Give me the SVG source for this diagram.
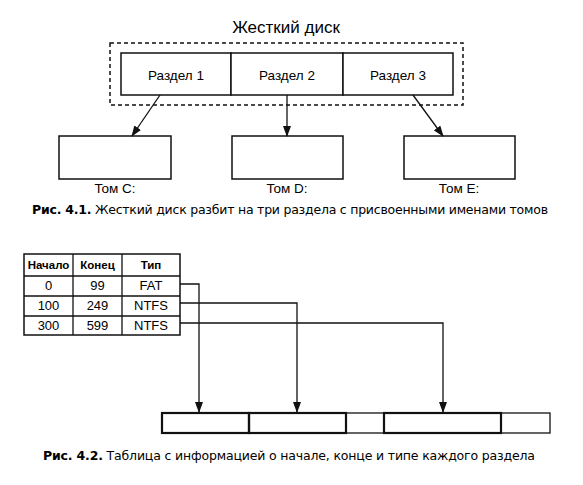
<svg xmlns="http://www.w3.org/2000/svg" width="583" height="485" viewBox="0 0 583 485">
<style>
.bg{fill:#fff}
.box{fill:#fff;stroke:#111;stroke-width:1.5}
.thin{fill:#fff;stroke:#111;stroke-width:1.3}
.thick{fill:none;stroke:#111;stroke-width:2.2}
.dash{fill:none;stroke:#111;stroke-width:1.5;stroke-dasharray:4 3}
.ln{fill:none;stroke:#111;stroke-width:1.3}
.lbl{font-family:"Liberation Sans",Arial,sans-serif;font-size:13.5px;fill:#000;text-anchor:middle}
.ttl{font-family:"Liberation Sans",Arial,sans-serif;font-size:17px;fill:#000;text-anchor:middle}
.th{font-family:"Liberation Sans",Arial,sans-serif;font-size:11.5px;font-weight:bold;fill:#000;text-anchor:middle}
.td{font-family:"Liberation Sans",Arial,sans-serif;font-size:13px;fill:#000;text-anchor:middle}
.cap{font-family:"DejaVu Sans",Verdana,sans-serif;font-size:12.5px;fill:#000}
.capb{font-weight:bold}
</style>
<defs>
<marker id="ah" markerWidth="11" markerHeight="8" refX="10" refY="4" orient="auto" markerUnits="userSpaceOnUse">
<path d="M0,0 L11,4 L0,8 Z" fill="#111"/>
</marker>
</defs>
<rect class="bg" x="0" y="0" width="583" height="485"/>

<text class="ttl" x="286" y="33">Жесткий диск</text>

<g id="disk">
<rect class="dash" x="110" y="43" width="353" height="62"/>
</g>
<g id="part1"><rect class="box" x="121" y="53" width="110" height="42"/><text class="lbl" x="176" y="80">Раздел 1</text></g>
<g id="part2"><rect class="box" x="231" y="53" width="112" height="42"/><text class="lbl" x="287" y="80">Раздел 2</text></g>
<g id="part3"><rect class="box" x="343" y="53" width="110" height="42"/><text class="lbl" x="398" y="80">Раздел 3</text></g>

<g id="volC"><rect class="box" x="59" y="136" width="112" height="43"/><text class="lbl" x="115" y="193">Том C:</text></g>
<g id="volD"><rect class="box" x="232" y="136" width="111" height="43"/><text class="lbl" x="287" y="193">Том D:</text></g>
<g id="volE"><rect class="box" x="404" y="136" width="111" height="43"/><text class="lbl" x="459" y="193">Том E:</text></g>

<text class="cap" x="32" y="214" textLength="516"><tspan class="capb">Рис. 4.1.</tspan> Жесткий диск разбит на три раздела с присвоенными именами томов</text>

<g id="table">
<rect class="box" x="24" y="254" width="156" height="81"/>
<line class="ln" x1="24" y1="276" x2="180" y2="276"/>
<line class="ln" x1="24" y1="296" x2="180" y2="296"/>
<line class="ln" x1="24" y1="316" x2="180" y2="316"/>
<line class="ln" x1="73" y1="254" x2="73" y2="335"/>
<line class="ln" x1="122" y1="254" x2="122" y2="335"/>
<text class="th" x="48.5" y="269">Начало</text>
<text class="th" x="97.5" y="269">Конец</text>
<text class="th" x="151" y="269">Тип</text>
<text class="td" x="48.5" y="290">0</text>
<text class="td" x="97.5" y="290">99</text>
<text class="td" x="151" y="290">FAT</text>
<text class="td" x="48.5" y="310">100</text>
<text class="td" x="97.5" y="310">249</text>
<text class="td" x="151" y="310">NTFS</text>
<text class="td" x="48.5" y="330">300</text>
<text class="td" x="97.5" y="330">599</text>
<text class="td" x="151" y="330">NTFS</text>
</g>

<g id="bar">
<rect class="thin" x="346" y="413" width="38" height="20"/>
<rect class="thin" x="501" y="413" width="49" height="20"/>
<rect class="thick" x="162" y="413" width="87" height="20"/>
<rect class="thick" x="249" y="413" width="97" height="20"/>
<rect class="thick" x="384" y="413" width="117" height="20"/>
</g>

<g id="connectors">
<line class="ln" x1="160" y1="95" x2="132" y2="136" marker-end="url(#ah)"/>
<line class="ln" x1="287" y1="95" x2="287" y2="136" marker-end="url(#ah)"/>
<line class="ln" x1="413" y1="95" x2="443" y2="136" marker-end="url(#ah)"/>
<polyline class="ln" points="180,284 199,284 199,412" marker-end="url(#ah)"/>
<polyline class="ln" points="180,303 297,303 297,412" marker-end="url(#ah)"/>
<polyline class="ln" points="180,323 443,323 443,412" marker-end="url(#ah)"/>
</g>

<text class="cap" x="43" y="460" textLength="492"><tspan class="capb">Рис. 4.2.</tspan> Таблица с информацией о начале, конце и типе каждого раздела</text>
</svg>
